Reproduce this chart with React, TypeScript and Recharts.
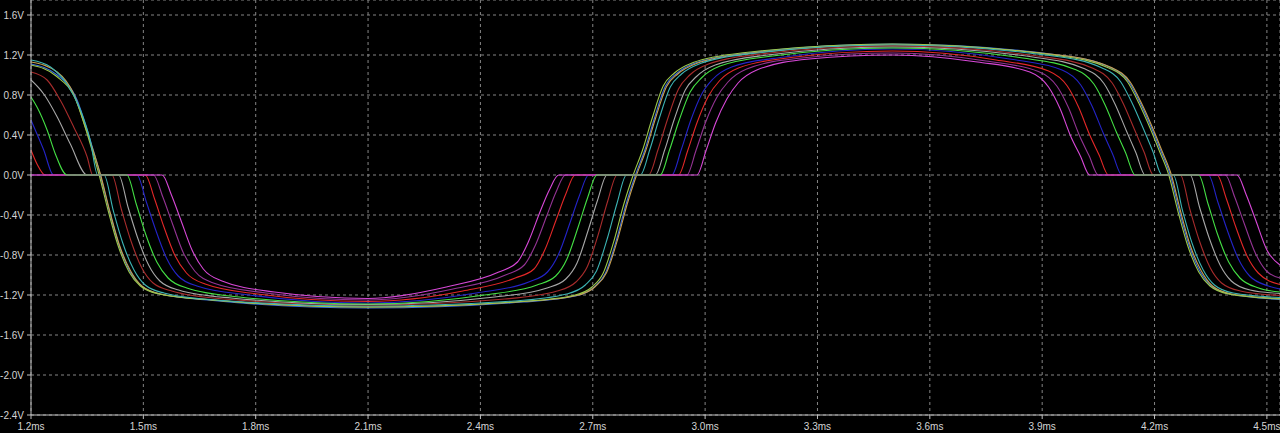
import { CartesianGrid, Line, LineChart, XAxis, YAxis } from "recharts";

// time in ms, voltage in V
const xTicks = [1.2, 1.5, 1.8, 2.1, 2.4, 2.7, 3.0, 3.3, 3.6, 3.9, 4.2, 4.5];
const yTicks = [-2.4, -2.0, -1.6, -1.2, -0.8, -0.4, 0.0, 0.4, 0.8, 1.2, 1.6];

const steelBlue: [number, number][] = [
  [1.2, 1.11], [1.27, 1.0], [1.323, 0.75], [1.354, 0.4], [1.385, 0],
  [1.41, -0.37], [1.435, -0.7], [1.465, -0.97], [1.495, -1.11], [1.545, -1.19], [1.685, -1.255],
  [2.1, -1.33],
  [2.514, -1.27], [2.654, -1.21], [2.704, -1.12], [2.734, -0.98], [2.764, -0.64], [2.789, -0.29], [2.814, 0],
  [2.839, 0.25], [2.864, 0.56], [2.894, 0.89], [2.924, 1.015], [2.974, 1.12], [3.114, 1.22],
  [3.5, 1.31],
  [3.942, 1.2], [4.082, 1.075], [4.132, 0.93], [4.162, 0.72], [4.192, 0.47], [4.217, 0.24], [4.242, 0],
  [4.267, -0.37], [4.292, -0.7], [4.322, -0.97], [4.352, -1.11], [4.402, -1.19], [4.535, -1.245],
];

const olive: [number, number][] = [
  [1.2, 1.1], [1.267, 0.99], [1.32, 0.75], [1.351, 0.4], [1.382, 0],
  [1.407, -0.37], [1.432, -0.7], [1.462, -0.97], [1.492, -1.11], [1.542, -1.19], [1.682, -1.25],
  [2.1, -1.32],
  [2.508, -1.265], [2.648, -1.205], [2.698, -1.12], [2.728, -0.98], [2.758, -0.64], [2.783, -0.29], [2.808, 0],
  [2.833, 0.25], [2.858, 0.56], [2.888, 0.89], [2.918, 1.02], [2.968, 1.125], [3.108, 1.225],
  [3.5, 1.31],
  [3.938, 1.195], [4.078, 1.07], [4.128, 0.93], [4.158, 0.72], [4.188, 0.47], [4.213, 0.24], [4.238, 0],
  [4.263, -0.37], [4.288, -0.7], [4.318, -0.97], [4.348, -1.11], [4.398, -1.19], [4.535, -1.24],
];

const orange: [number, number][] = [
  [1.2, 1.13], [1.27, 1.03], [1.314, 0.81], [1.345, 0.48], [1.386, 0],
  [1.411, -0.37], [1.436, -0.7], [1.466, -0.96], [1.496, -1.11], [1.546, -1.19], [1.686, -1.25],
  [2.1, -1.32],
  [2.517, -1.265], [2.657, -1.205], [2.707, -1.115], [2.737, -0.975], [2.767, -0.635], [2.792, -0.29], [2.817, 0],
  [2.842, 0.25], [2.867, 0.56], [2.897, 0.885], [2.927, 1.01], [2.977, 1.115], [3.117, 1.215],
  [3.5, 1.3],
  [3.945, 1.2], [4.085, 1.075], [4.135, 0.93], [4.165, 0.72], [4.195, 0.47], [4.22, 0.24], [4.245, 0],
  [4.27, -0.37], [4.295, -0.7], [4.325, -0.96], [4.355, -1.11], [4.405, -1.19], [4.535, -1.235],
];

const teal: [number, number][] = [
  [1.2, 1.15], [1.252, 1.08], [1.296, 0.91], [1.332, 0.65], [1.358, 0.35], [1.378, 0], [1.395, 0],
  [1.42, -0.36], [1.445, -0.68], [1.475, -0.95], [1.505, -1.1], [1.555, -1.18], [1.695, -1.25],
  [2.1, -1.31],
  [2.49, -1.26], [2.63, -1.19], [2.68, -1.1], [2.71, -0.96], [2.74, -0.62], [2.765, -0.28], [2.79, 0], [2.827, 0],
  [2.852, 0.25], [2.877, 0.56], [2.907, 0.88], [2.937, 1.01], [2.987, 1.115], [3.127, 1.215],
  [3.5, 1.3],
  [3.92, 1.195], [4.06, 1.07], [4.11, 0.93], [4.14, 0.72], [4.17, 0.465], [4.195, 0.24], [4.22, 0], [4.25, 0],
  [4.275, -0.36], [4.3, -0.68], [4.33, -0.95], [4.36, -1.1], [4.41, -1.18], [4.535, -1.225],
];

const maroon: [number, number][] = [
  [1.2, 1.03], [1.243, 0.95], [1.278, 0.75], [1.314, 0.48], [1.35, 0.18], [1.365, 0], [1.416, 0],
  [1.441, -0.34], [1.466, -0.65], [1.496, -0.93], [1.526, -1.08], [1.576, -1.16], [1.716, -1.24],
  [2.1, -1.3],
  [2.465, -1.24], [2.605, -1.16], [2.655, -1.07], [2.685, -0.92], [2.715, -0.59], [2.74, -0.26], [2.765, 0], [2.849, 0],
  [2.874, 0.25], [2.899, 0.55], [2.929, 0.86], [2.959, 1.0], [3.009, 1.11], [3.149, 1.21],
  [3.5, 1.29],
  [3.897, 1.185], [4.037, 1.065], [4.087, 0.92], [4.117, 0.71], [4.147, 0.45], [4.172, 0.23], [4.197, 0], [4.269, 0],
  [4.294, -0.34], [4.319, -0.65], [4.349, -0.93], [4.379, -1.08], [4.429, -1.16], [4.535, -1.205],
];

const grey: [number, number][] = [
  [1.2, 0.95], [1.234, 0.81], [1.27, 0.58], [1.305, 0.31], [1.35, 0], [1.434, 0],
  [1.459, -0.32], [1.484, -0.62], [1.514, -0.9], [1.544, -1.06], [1.594, -1.15], [1.734, -1.23],
  [2.1, -1.295],
  [2.438, -1.22], [2.578, -1.13], [2.628, -1.04], [2.658, -0.88], [2.688, -0.55], [2.713, -0.25], [2.738, 0], [2.867, 0],
  [2.892, 0.25], [2.917, 0.55], [2.947, 0.85], [2.977, 0.985], [3.027, 1.1], [3.167, 1.2],
  [3.5, 1.28],
  [3.875, 1.18], [4.015, 1.06], [4.065, 0.915], [4.095, 0.705], [4.125, 0.44], [4.15, 0.225], [4.175, 0], [4.295, 0],
  [4.32, -0.32], [4.345, -0.62], [4.375, -0.9], [4.405, -1.06], [4.455, -1.15], [4.535, -1.185],
];

const green: [number, number][] = [
  [1.2, 0.78], [1.216, 0.68], [1.243, 0.45], [1.265, 0.21], [1.296, 0], [1.456, 0],
  [1.481, -0.29], [1.506, -0.59], [1.536, -0.87], [1.566, -1.03], [1.616, -1.13], [1.756, -1.22],
  [2.1, -1.29],
  [2.411, -1.2], [2.551, -1.1], [2.601, -1.01], [2.631, -0.84], [2.661, -0.52], [2.686, -0.23], [2.711, 0], [2.88, 0],
  [2.905, 0.25], [2.93, 0.54], [2.96, 0.83], [2.99, 0.97], [3.04, 1.09], [3.18, 1.19],
  [3.5, 1.27],
  [3.848, 1.17], [3.988, 1.055], [4.038, 0.91], [4.068, 0.7], [4.098, 0.43], [4.123, 0.22], [4.148, 0], [4.318, 0],
  [4.343, -0.29], [4.368, -0.59], [4.398, -0.87], [4.428, -1.03], [4.478, -1.13], [4.535, -1.17],
];

const blue: [number, number][] = [
  [1.2, 0.55], [1.216, 0.41], [1.234, 0.25], [1.26, 0], [1.483, 0],
  [1.508, -0.27], [1.533, -0.55], [1.563, -0.84], [1.593, -1.01], [1.643, -1.11], [1.783, -1.2],
  [2.1, -1.28],
  [2.389, -1.18], [2.529, -1.07], [2.579, -0.97], [2.609, -0.79], [2.639, -0.48], [2.664, -0.21], [2.689, 0], [2.911, 0],
  [2.936, 0.25], [2.961, 0.54], [2.991, 0.81], [3.021, 0.96], [3.071, 1.08], [3.211, 1.18],
  [3.5, 1.26],
  [3.813, 1.16], [3.953, 1.05], [4.003, 0.9], [4.033, 0.69], [4.063, 0.42], [4.088, 0.21], [4.113, 0], [4.344, 0],
  [4.369, -0.27], [4.394, -0.55], [4.424, -0.84], [4.454, -1.01], [4.504, -1.11], [4.535, -1.14],
];

const red: [number, number][] = [
  [1.2, 0.25], [1.216, 0.11], [1.238, 0], [1.505, 0],
  [1.53, -0.24], [1.555, -0.52], [1.585, -0.81], [1.615, -0.98], [1.665, -1.09], [1.805, -1.19],
  [2.1, -1.265],
  [2.353, -1.16], [2.493, -1.03], [2.543, -0.94], [2.573, -0.74], [2.603, -0.44], [2.628, -0.19], [2.653, 0], [2.929, 0],
  [2.954, 0.25], [2.979, 0.53], [3.009, 0.79], [3.039, 0.945], [3.089, 1.07], [3.229, 1.175],
  [3.5, 1.24],
  [3.777, 1.15], [3.917, 1.04], [3.967, 0.89], [3.997, 0.68], [4.027, 0.4], [4.052, 0.2], [4.077, 0], [4.367, 0],
  [4.392, -0.24], [4.417, -0.52], [4.447, -0.81], [4.477, -0.98], [4.535, -1.095],
];

const purple: [number, number][] = [
  [1.2, 0], [1.527, 0],
  [1.552, -0.22], [1.577, -0.48], [1.607, -0.78], [1.637, -0.96], [1.687, -1.08], [1.827, -1.18],
  [2.1, -1.25],
  [2.327, -1.14], [2.467, -1.0], [2.517, -0.9], [2.547, -0.7], [2.577, -0.41], [2.602, -0.17], [2.627, 0], [2.951, 0],
  [2.976, 0.25], [3.001, 0.525], [3.031, 0.775], [3.061, 0.93], [3.111, 1.06], [3.251, 1.168],
  [3.5, 1.22],
  [3.75, 1.14], [3.89, 1.035], [3.94, 0.885], [3.97, 0.675], [4.0, 0.39], [4.025, 0.195], [4.05, 0], [4.389, 0],
  [4.414, -0.22], [4.439, -0.48], [4.469, -0.78], [4.499, -0.96], [4.535, -1.03],
];

const magenta: [number, number][] = [
  [1.2, 0], [1.55, 0],
  [1.575, -0.2], [1.6, -0.45], [1.63, -0.75], [1.66, -0.94], [1.71, -1.06], [1.85, -1.17],
  [2.1, -1.235],
  [2.309, -1.12], [2.449, -0.97], [2.499, -0.87], [2.529, -0.66], [2.559, -0.37], [2.584, -0.15], [2.609, 0], [2.978, 0],
  [3.003, 0.25], [3.028, 0.52], [3.058, 0.76], [3.088, 0.92], [3.138, 1.05], [3.278, 1.16],
  [3.5, 1.2],
  [3.727, 1.13], [3.867, 1.03], [3.917, 0.88], [3.947, 0.67], [3.977, 0.38], [4.002, 0.19], [4.027, 0], [4.42, 0],
  [4.445, -0.2], [4.47, -0.45], [4.5, -0.75], [4.535, -0.9],
];

const series = [
  { name: "V1", color: "#3a6ee0", points: steelBlue },
  { name: "V2", color: "#c8a050", points: orange },
  { name: "V3", color: "#9cc84a", points: olive },
  { name: "V4", color: "#3cb4b4", points: teal },
  { name: "V5", color: "#a82c2c", points: maroon },
  { name: "V6", color: "#a8a8a8", points: grey },
  { name: "V7", color: "#2424c8", points: blue },
  { name: "V8", color: "#e42828", points: red },
  { name: "V9", color: "#943494", points: purple },
  { name: "V10", color: "#d848d8", points: magenta },
  { name: "V11", color: "#44e044", points: green },
];

const tickStyle = { fill: "#d4d4d4", fontSize: 10, fontFamily: "Liberation Sans, Arial, sans-serif" };

export default function App() {
  return (
    <div style={{ position: "absolute", left: 0, top: 0, width: 1280, height: 433, background: "#000" }}>
      <LineChart width={1280} height={433} margin={{ top: 0, right: 0, bottom: 0, left: 0 }}>
        <CartesianGrid stroke="#858585" strokeDasharray="3 3" />
        <XAxis
          type="number"
          dataKey="t"
          domain={[1.2, 4.535]}
          ticks={xTicks}
          interval={0}
          tickFormatter={(v: number) => v.toFixed(1) + "ms"}
          stroke="#c0c0c0"
          tick={tickStyle}
          tickSize={4}
          tickMargin={4}
          height={18}
          allowDataOverflow
        />
        <YAxis
          type="number"
          domain={[-2.4, 1.75]}
          ticks={yTicks}
          interval={0}
          tickFormatter={(v: number) => v.toFixed(1) + "V"}
          stroke="#c0c0c0"
          tick={tickStyle}
          tickSize={4}
          tickMargin={3}
          width={31}
          allowDataOverflow
        />
        {series.map((s) => (
          <Line
            key={s.name}
            name={s.name}
            data={s.points.map(([t, v]) => ({ t, v }))}
            dataKey="v"
            type="monotone"
            stroke={s.color}
            strokeWidth={1.1}
            dot={false}
            isAnimationActive={false}
          />
        ))}
      </LineChart>
    </div>
  );
}
